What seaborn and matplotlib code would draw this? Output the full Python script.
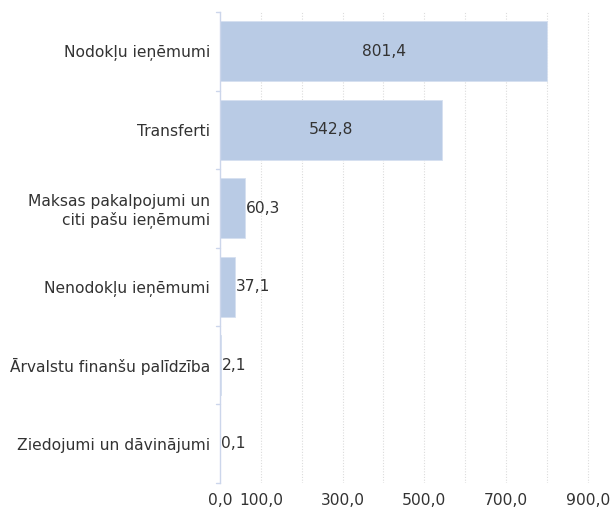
import matplotlib
matplotlib.use("Agg")
import matplotlib.pyplot as plt
import pandas as pd
import seaborn as sns

categories = [
    "Nodokļu ieņēmumi",
    "Transferti",
    "Maksas pakalpojumi un\nciti pašu ieņēmumi",
    "Nenodokļu ieņēmumi",
    "Ārvalstu finanšu palīdzība",
    "Ziedojumi un dāvinājumi",
]
values = [801.4, 542.8, 60.3, 37.1, 2.1, 0.1]
x_labeled_ticks = [0, 100, 300, 500, 700, 900]
x_grid_ticks = [0, 100, 200, 300, 400, 500, 600, 700, 800, 900]
title = "Pašvaldību pamatbudžeta ieņēmumi pa veidiem (milj. euro)"

df = pd.DataFrame({"kategorija": categories, "vertiba": values})

sns.set_theme(style="white")
plt.rcParams["font.family"] = ["DejaVu Sans"]

FS = 11.2
TXT = "#333333"

fig = plt.figure(figsize=(6.11, 5.11), dpi=100)
ax = fig.add_axes([0.360, 0.0548, 0.640, 0.9217])

sns.barplot(data=df, x="vertiba", y="kategorija", orient="h",
            color="#b9cbe5", saturation=1, width=0.77, ax=ax,
            edgecolor="#d6e0f0", linewidth=0.6)

ax.set_xlim(0, 957)
ax.set_ylim(len(categories) - 0.5, -0.5)
ax.set_xlabel("")
ax.set_ylabel("")

# vertikālās režģa līnijas
for t in x_grid_ticks[1:]:
    ax.axvline(t, color="#dcdcdc", lw=0.8, ls=(0, (1, 1.5)), zorder=0)

ax.set_xticks(x_labeled_ticks)
ax.set_xticklabels([f"{t:.1f}".replace(".", ",") for t in x_labeled_ticks],
                   fontsize=FS, color=TXT)
ax.tick_params(axis="x", length=0, pad=7)

ax.set_yticks(range(len(categories)))
ax.set_yticklabels(categories, fontsize=FS, color=TXT, ha="right",
                   multialignment="right")
ax.tick_params(axis="y", length=0, pad=7)
# atzīmes starp kategorijām
for b in [i - 0.5 for i in range(len(categories) + 1)]:
    ax.plot([-0.011, 0], [b, b], transform=ax.get_yaxis_transform(),
            color="#ccd6eb", lw=1, clip_on=False)

for s in ["top", "right", "bottom"]:
    ax.spines[s].set_visible(False)
ax.spines["left"].set_color("#ccd6eb")
ax.spines["left"].set_linewidth(1)

for i, v in enumerate(values):
    txt = f"{v:.1f}".replace(".", ",")
    if v > 150:
        ax.text(v / 2, i, txt, ha="center", va="center", fontsize=FS,
                color=TXT)
    else:
        ax.text(v + 3, i, txt, ha="left", va="center", fontsize=FS,
                color=TXT)

# virsraksts, kas atsaucē ir nogriezts augšmalā
fig.text(0.50, 1.005, title, ha="center", va="baseline", fontsize=11,
         fontweight="bold", color=TXT)

fig.savefig("out.png", dpi=100)
